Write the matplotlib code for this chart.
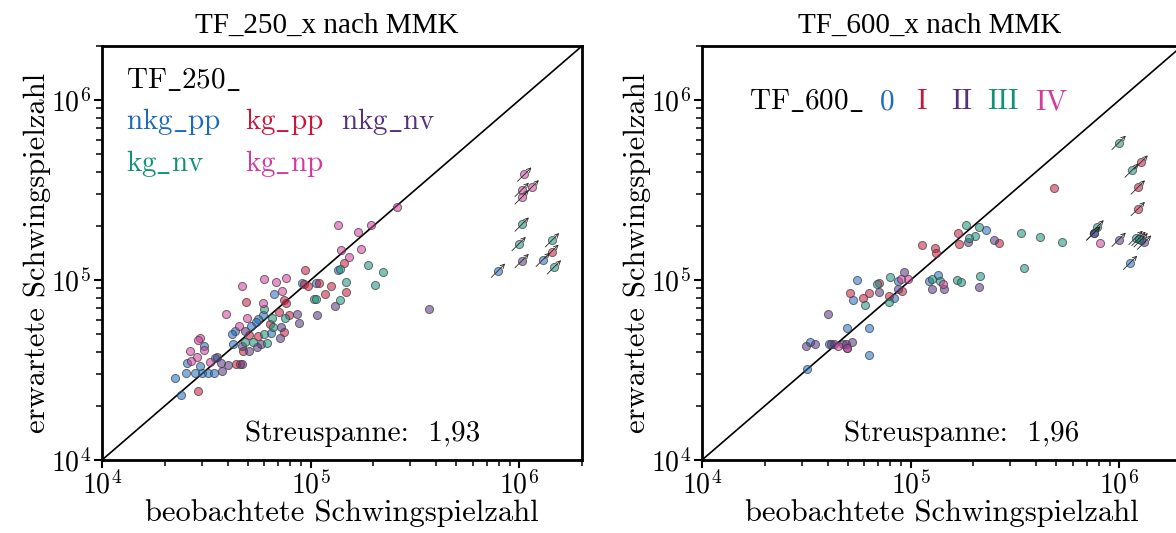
import matplotlib
matplotlib.use("Agg")
import matplotlib.pyplot as plt
from matplotlib.colors import to_rgba
from matplotlib.transforms import offset_copy
from matplotlib.ticker import LogLocator, NullFormatter

plt.rcParams.update({
    "font.family": "cmr10",
    "mathtext.fontset": "cm",
    "axes.formatter.use_mathtext": True,
    "axes.unicode_minus": False,
})

# ---------------------------------------------------------------- data
# TF_250_x: observed (x) vs expected (y) cycles, per group; *_r = run-outs
nkg_pp_x = [1.36e5, 9.09e4, 1.06e5, 6.71e4, 5.94e4, 5.58e4, 5.46e4, 5.17e4, 4.36e4, 4.22e4, 6.47e4, 4.23e4,
            3.08e4, 3.47e4, 2.56e4, 2.94e4, 3.02e4, 2.79e4, 2.53e4, 3.22e4, 3.43e4, 2.23e4, 2.40e4]
nkg_pp_y = [1.14e5, 9.64e4, 9.64e4, 8.34e4, 6.37e4, 6.10e4, 5.87e4, 5.55e4, 5.19e4, 5.01e4, 5.08e4, 4.41e4,
            4.28e4, 3.67e4, 3.47e4, 3.31e4, 3.03e4, 3.03e4, 3.03e4, 3.03e4, 3.03e4, 2.85e4, 2.29e4]
nkg_pp_rx = [7.93e5, 1.30e6]
nkg_pp_ry = [1.13e5, 1.30e5]

kg_pp_x = [1.45e5, 9.43e4, 1.25e5, 1.17e5, 1.48e5, 9.32e4, 9.74e4, 1.10e5, 4.89e4, 7.47e4, 7.64e4, 7.02e4,
           7.90e4, 6.42e4, 7.42e4, 5.58e4, 5.07e4, 4.73e4, 4.39e4, 4.59e4, 2.89e4]
kg_pp_y = [1.25e5, 1.14e5, 9.32e4, 8.37e4, 8.55e4, 9.52e4, 9.32e4, 9.64e4, 7.55e4, 7.75e4, 7.43e4, 6.65e4,
           6.40e4, 5.70e4, 5.12e4, 4.91e4, 4.97e4, 4.05e4, 3.40e4, 3.41e4, 2.42e4]
kg_pp_rx = [1.43e6]
kg_pp_ry = [1.44e5]

nkg_nv_x = [1.31e5, 1.07e5, 8.79e4, 8.60e4, 7.20e4, 7.10e4, 5.79e4, 5.56e4, 4.85e4, 4.68e4, 5.05e4, 3.55e4,
            3.71e4, 4.02e4, 4.68e4, 3.78e4, 3.68e5]
nkg_nv_y = [7.18e4, 6.40e4, 5.77e4, 6.48e4, 5.46e4, 4.74e4, 4.41e4, 4.22e4, 5.21e4, 4.32e4, 4.05e4, 3.76e4,
            3.44e4, 3.37e4, 3.41e4, 3.13e4, 6.87e4]
nkg_nv_rx = [1.03e6]
nkg_nv_ry = [1.28e5]

kg_nv_x = [1.89e5, 2.22e5, 2.04e5, 1.39e5, 1.48e5, 1.38e5, 1.04e5, 1.06e5, 7.53e4, 6.01e4, 6.54e4, 6.57e4,
           6.01e4, 5.30e4, 6.17e4, 4.87e4]
kg_nv_y = [1.22e5, 1.11e5, 9.40e4, 1.15e5, 9.81e4, 7.72e4, 7.89e4, 7.89e4, 6.18e4, 6.88e4, 6.18e4, 5.46e4,
           5.01e4, 4.50e4, 4.45e4, 4.53e4]
kg_nv_rx = [1.03e6, 9.96e5, 1.44e6, 1.47e6]
kg_nv_ry = [2.04e5, 1.59e5, 1.67e5, 1.18e5]

kg_np_x = [2.60e5, 1.36e5, 1.94e5, 1.69e5, 1.40e5, 1.75e5, 1.53e5, 7.28e4, 7.61e4, 6.81e4, 5.97e4, 4.68e4,
           5.92e4, 3.95e4, 4.98e4, 4.54e4, 2.96e4, 2.89e4, 3.08e4, 2.63e4, 2.84e4, 2.68e4, 3.28e4]
kg_np_y = [2.56e5, 2.02e5, 2.03e5, 1.84e5, 1.47e5, 1.49e5, 1.34e5, 8.67e4, 1.03e5, 9.77e4, 1.01e5, 9.32e4,
           7.49e4, 6.45e4, 6.16e4, 5.55e4, 4.76e4, 4.66e4, 4.08e4, 4.03e4, 3.73e4, 3.55e4, 3.52e4]
kg_np_rx = [1.06e6, 1.03e6, 1.15e6, 1.03e6]
kg_np_ry = [3.87e5, 3.18e5, 3.29e5, 2.89e5]

# TF_600_x: groups 0 .. IV
g0_x = [2.30e5, 8.69e4, 5.52e4, 5.28e4, 8.35e4, 1.23e5, 1.36e5, 4.98e4, 6.35e4, 3.31e4, 4.05e4, 6.35e4, 3.19e4]
g0_y = [1.90e5, 9.85e4, 1.00e5, 7.75e4, 7.96e4, 9.94e4, 1.07e5, 5.39e4, 5.41e4, 4.52e4, 4.41e4, 3.83e4, 3.19e4]
g0_rx = [7.53e5, 1.27e6, 1.13e6]
g0_ry = [1.82e5, 1.67e5, 1.25e5]

g1_x = [1.68e5, 2.64e5, 1.71e5, 1.13e5, 1.31e5, 1.33e5, 7.04e4, 5.11e4, 6.31e4, 5.92e4, 7.84e4, 9.08e4, 4.85e5]
g1_y = [1.83e5, 1.60e5, 1.58e5, 1.56e5, 1.50e5, 1.41e5, 9.60e4, 8.45e4, 8.45e4, 7.96e4, 8.13e4, 8.67e4, 3.26e5]
g1_rx = [1.27e6, 1.23e6, 1.23e6]
g1_ry = [4.51e5, 3.28e5, 2.49e5]

g2_x = [1.89e5, 2.52e5, 9.29e4, 7.04e4, 8.69e4, 1.27e5, 1.44e5, 2.13e5, 4.02e4, 3.15e4, 3.48e4, 4.17e4,
        4.31e4, 4.76e4, 4.92e4, 5.26e4, 4.94e4]
g2_y = [1.62e5, 1.67e5, 1.11e5, 8.63e4, 8.93e4, 8.93e4, 8.93e4, 9.20e4, 6.51e4, 4.28e4, 4.43e4, 4.43e4,
        4.41e4, 4.43e4, 4.43e4, 4.50e4, 4.19e4]
g2_rx = [7.53e5, 9.96e5, 1.32e6]
g2_ry = [1.82e5, 1.68e5, 1.62e5]

g3_x = [1.84e5, 2.12e5, 2.04e5, 1.91e5, 7.93e4, 6.89e4, 6.03e4, 7.90e4, 1.26e5, 1.39e5, 1.66e5, 1.75e5,
        2.15e5, 3.40e5, 4.15e5, 5.32e5, 3.48e5]
g3_y = [2.02e5, 1.98e5, 1.75e5, 1.71e5, 1.04e5, 9.52e4, 7.24e4, 7.52e4, 1.01e5, 9.94e4, 9.98e4, 9.72e4,
        1.06e5, 1.82e5, 1.74e5, 1.62e5, 1.17e5]
g3_rx = [9.96e5, 1.15e6, 7.81e5, 1.20e6, 1.24e6]
g3_ry = [5.81e5, 4.07e5, 1.97e5, 1.72e5, 1.70e5]

g4_x = [9.74e4, 9.02e4, 1.43e5, 4.51e4, 4.94e4, 8.07e5]
g4_y = [1.02e5, 1.01e5, 9.48e4, 4.30e4, 4.19e4, 1.60e5]
g4_rx = []
g4_ry = []

scatter_250 = "1,93"
scatter_600 = "1,96"

# ---------------------------------------------------------------- style
BLUE = "#1b6ac0"
RED = "#c8173a"
PURPLE = "#55307f"
TEAL = "#12917a"
PINK = "#d23a9b"
EDGE = (0.25, 0.25, 0.25, 0.75)
FILL_ALPHA = 0.55
LIM = (1e4, 2e6)

W, H = 1176, 533
fig = plt.figure(figsize=(W / 100, H / 100), dpi=100)


def px(x, y):
    return x / W, 1 - y / H


def add_axes(left):
    ax = fig.add_axes([left / W, 73 / H, 480 / W, 414 / H])
    ax.set_xscale("log")
    ax.set_yscale("log")
    ax.set_xlim(*LIM)
    ax.set_ylim(*LIM)
    for s in ("top", "right", "left", "bottom"):
        ax.spines[s].set_linewidth(2.0)
    for axis in (ax.xaxis, ax.yaxis):
        axis.set_major_locator(LogLocator(base=10))
        axis.set_minor_locator(LogLocator(base=10, subs=range(2, 10)))
        axis.set_minor_formatter(NullFormatter())
    ax.tick_params(which="major", direction="out", length=6, width=1.5,
                   labelsize=20, top=False, right=False, pad=2)
    ax.tick_params(which="minor", direction="out", length=4, width=1.1,
                   top=False, right=False)
    ax.plot(LIM, LIM, color="black", lw=1.2, zorder=2)
    ax.set_xlabel("beobachtete Schwingspielzahl", fontsize=22, labelpad=-1)
    ax.set_ylabel("erwartete Schwingspielzahl", fontsize=22, labelpad=0)
    return ax


def points(ax, xs, ys, color, rx=(), ry=()):
    face = to_rgba(color, FILL_ALPHA)
    ax.scatter(list(xs) + list(rx), list(ys) + list(ry), s=34, facecolors=[face],
               edgecolors=[EDGE], linewidths=0.7, zorder=3)
    head = offset_copy(ax.transData, fig=fig, x=5, y=5, units="points")
    tail = offset_copy(ax.transData, fig=fig, x=-5, y=-5, units="points")
    for x, y in zip(rx, ry):
        ax.annotate("", xy=(x, y), xycoords=head, xytext=(x, y), textcoords=tail,
                    arrowprops=dict(arrowstyle="->,head_length=0.3,head_width=0.15",
                                    lw=0.6, color="0.15", shrinkA=0, shrinkB=0),
                    zorder=4)


# ---------------------------------------------------------------- left panel
ax1 = add_axes(102)
points(ax1, nkg_pp_x, nkg_pp_y, BLUE, nkg_pp_rx, nkg_pp_ry)
points(ax1, kg_pp_x, kg_pp_y, RED, kg_pp_rx, kg_pp_ry)
points(ax1, nkg_nv_x, nkg_nv_y, PURPLE, nkg_nv_rx, nkg_nv_ry)
points(ax1, kg_nv_x, kg_nv_y, TEAL, kg_nv_rx, kg_nv_ry)
points(ax1, kg_np_x, kg_np_y, PINK, kg_np_rx, kg_np_ry)

fig.text(*px(327, 33), "TF_250_x nach MMK", family="Liberation Serif", fontsize=21,
         ha="center", va="baseline")
fig.text(*px(126, 88), r"$\mathrm{TF\_250\_}$", fontsize=21, va="baseline")
fig.text(*px(126, 129), r"$\mathrm{nkg\_pp}$", fontsize=21, va="baseline", color=BLUE)
fig.text(*px(245, 129), r"$\mathrm{kg\_pp}$", fontsize=21, va="baseline", color=RED)
fig.text(*px(341, 129), r"$\mathrm{nkg\_nv}$", fontsize=21, va="baseline", color=PURPLE)
fig.text(*px(126, 171), r"$\mathrm{kg\_nv}$", fontsize=21, va="baseline", color=TEAL)
fig.text(*px(245, 171), r"$\mathrm{kg\_np}$", fontsize=21, va="baseline", color=PINK)
fig.text(*px(245, 441), "Streuspanne:  " + scatter_250, fontsize=21, va="baseline")

# ---------------------------------------------------------------- right panel
ax2 = add_axes(702)
points(ax2, g0_x, g0_y, BLUE, g0_rx, g0_ry)
points(ax2, g1_x, g1_y, RED, g1_rx, g1_ry)
points(ax2, g2_x, g2_y, PURPLE, g2_rx, g2_ry)
points(ax2, g3_x, g3_y, TEAL, g3_rx, g3_ry)
points(ax2, g4_x, g4_y, PINK, g4_rx, g4_ry)

fig.text(*px(930, 33), "TF_600_x nach MMK", family="Liberation Serif", fontsize=21,
         ha="center", va="baseline")
fig.text(*px(749, 109), r"$\mathrm{TF\_600\_}$", fontsize=21, va="baseline")
fig.text(*px(880, 109), "0", fontsize=21, va="baseline", color=BLUE)
fig.text(*px(916, 109), "I", fontsize=21, va="baseline", color=RED)
fig.text(*px(951, 109), "II", fontsize=21, va="baseline", color=PURPLE)
fig.text(*px(987, 109), "III", fontsize=21, va="baseline", color=TEAL)
fig.text(*px(1035, 109), "IV", fontsize=21, va="baseline", color=PINK)
fig.text(*px(844, 441), "Streuspanne:  " + scatter_600, fontsize=21, va="baseline")

fig.savefig("out.png", dpi=100)
